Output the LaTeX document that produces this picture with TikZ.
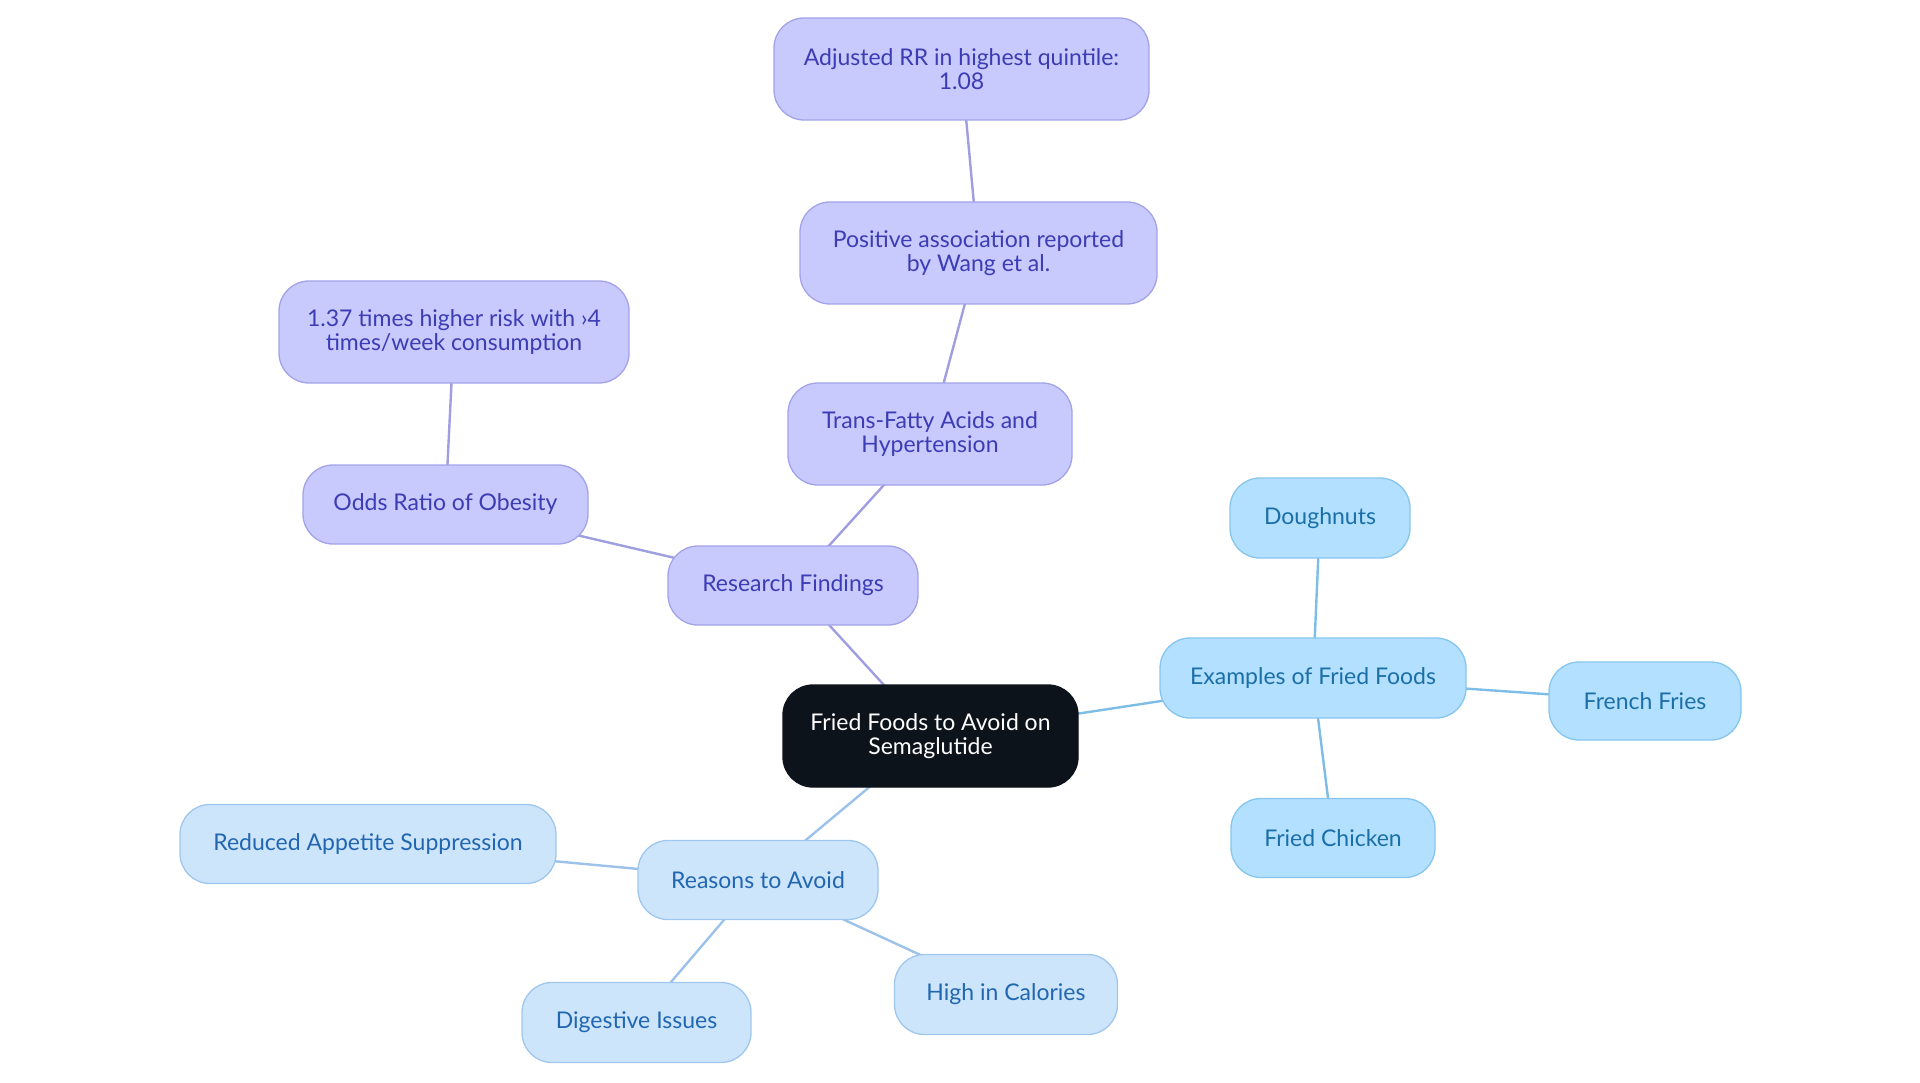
\documentclass[tikz,border=0pt]{standalone}
\usepackage{fontspec}
\usetikzlibrary{backgrounds}
\setmainfont{Lato}
\definecolor{pfill}{HTML}{C8C9FC}
\definecolor{pdraw}{HTML}{A3A3EA}
\definecolor{ptext}{HTML}{3C3CB4}
\definecolor{pline}{HTML}{9E9EE0}
\definecolor{bfill}{HTML}{B3E0FE}
\definecolor{bdraw}{HTML}{86C6EE}
\definecolor{btext}{HTML}{1B6FA8}
\definecolor{bline}{HTML}{7DBDE6}
\definecolor{lfill}{HTML}{CDE5FB}
\definecolor{ldraw}{HTML}{9FC7EE}
\definecolor{ltext}{HTML}{2166B0}
\definecolor{lline}{HTML}{9CC2EA}
\definecolor{rootfill}{HTML}{0D131B}
\tikzset{
  box/.style={rounded corners=30pt, line width=1.3pt, inner sep=0pt, align=center,
    font=\fontsize{23}{23.5}\selectfont},
  pbox/.style={box, fill=pfill, draw=pdraw, text=ptext},
  bbox/.style={box, fill=bfill, draw=bdraw, text=btext},
  lbox/.style={box, fill=lfill, draw=ldraw, text=ltext},
  rbox/.style={box, fill=rootfill, draw=rootfill, text=white},
  sz/.style 2 args={minimum width=#1pt, minimum height=#2pt},
  pcon/.style={draw=pline, line width=2.4pt},
  bcon/.style={draw=bline, line width=2.4pt},
  lcon/.style={draw=lline, line width=2.4pt},
}
\begin{document}
\begin{tikzpicture}[x=1pt,y=-1pt]
\useasboundingbox (0,0) rectangle (1920,1083);
% nodes
\node[pbox, sz={375}{102}] (adj) at (961.5,69) {Adjusted RR in highest quintile:\\1.08};
\node[pbox, sz={357}{102}] (pos) at (978.5,253) {Positive association reported\\by Wang et al.};
\node[pbox, sz={284}{102}] (trans) at (930,434) {Trans-Fatty Acids and\\Hypertension};
\node[pbox, sz={250}{79}] (research) at (793,585.5) {Research Findings};
\node[pbox, sz={350}{102}] (r137) at (454,332) {1.37 times higher risk with ›4\\times/week consumption};
\node[pbox, sz={285}{79}] (odds) at (445.5,504.5) {Odds Ratio of Obesity};
\node[rbox, sz={295}{102}] (root) at (930.5,736) {Fried Foods to Avoid on\\Semaglutide};
\node[bbox, sz={306}{80}] (examples) at (1313,678) {Examples of Fried Foods};
\node[bbox, sz={180}{80}] (dough) at (1320,518) {Doughnuts};
\node[bbox, sz={192}{78}] (french) at (1645,701) {French Fries};
\node[bbox, sz={204}{79}] (chicken) at (1333,838) {Fried Chicken};
\node[lbox, sz={240}{79}] (reasons) at (758,880) {Reasons to Avoid};
\node[lbox, sz={376}{79}] (reduced) at (368,844) {Reduced Appetite Suppression};
\node[lbox, sz={229}{80}] (digestive) at (636.5,1022.5) {Digestive Issues};
\node[lbox, sz={223}{80}] (high) at (1006,994.5) {High in Calories};
% connectors (behind the boxes, so they meet the rounded outlines)
\begin{pgfonlayer}{background}
\draw[pcon] (adj.center) -- (pos.center);
\draw[pcon] (pos.center) -- (trans.center);
\draw[pcon] (trans.center) -- (research.center);
\draw[pcon] (research.center) -- (root.center);
\draw[pcon] (r137.center) -- (odds.center);
\draw[pcon] (odds.center) -- (research.center);
\draw[bcon] (root.center) -- (examples.center);
\draw[bcon] (examples.center) -- (dough.center);
\draw[bcon] (examples.center) -- (french.center);
\draw[bcon] (examples.center) -- (chicken.center);
\draw[lcon] (root.center) -- (reasons.center);
\draw[lcon] (reasons.center) -- (reduced.center);
\draw[lcon] (reasons.center) -- (digestive.center);
\draw[lcon] (reasons.center) -- (high.center);
\end{pgfonlayer}
\end{tikzpicture}
\end{document}
